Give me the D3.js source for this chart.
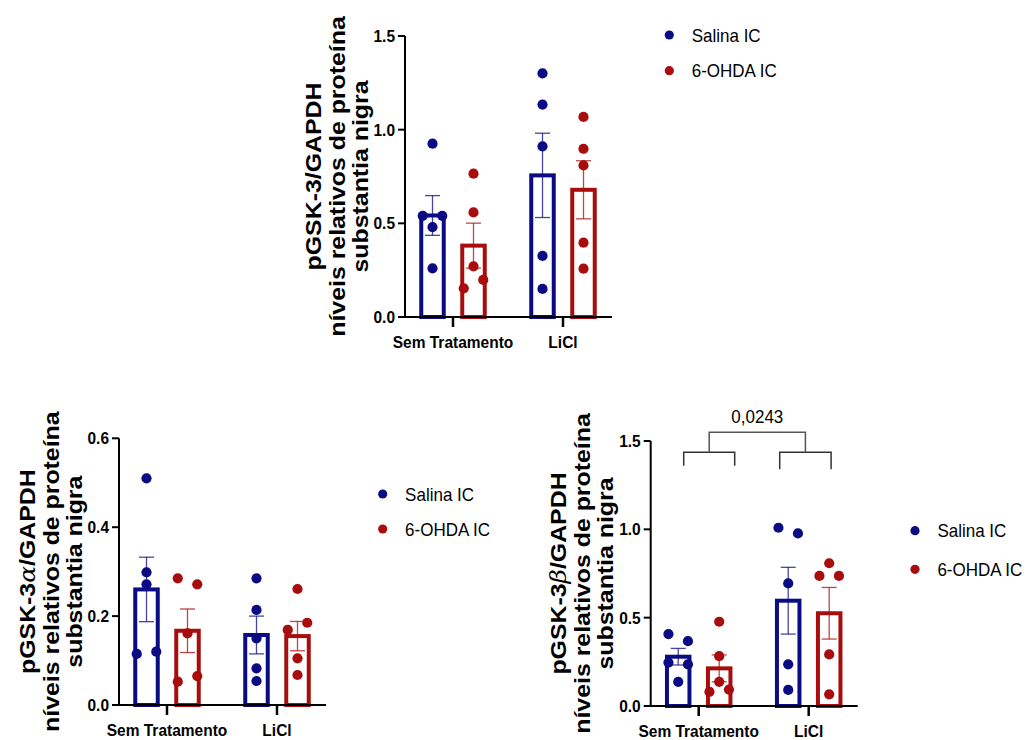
<!DOCTYPE html>
<html><head><meta charset="utf-8">
<script src="https://cdn.jsdelivr.net/npm/d3@7"></script>
<style>html,body{margin:0;padding:0;background:#fff;} svg{display:block}</style>
</head><body>
<svg id="c" width="1026" height="740"></svg>
<script>
// ---------- data ----------
const categories = ["Sem Tratamento", "LiCl"];
const seriesNames = ["Salina IC", "6-OHDA IC"];
const seriesColors = ["#0b0b83", "#a80c0c"];

// pGSK-3 / GAPDH (top)
const gsk3SalinaPoints = [[0.925, 0.54, 0.54, 0.48, 0.26], [1.30, 1.134, 0.911, 0.326, 0.15]];
const gsk3OhdaPoints   = [[0.765, 0.558, 0.27, 0.153, 0.198], [1.068, 0.898, 0.809, 0.397, 0.258]];
const gsk3SalinaMean = [0.542, 0.756];
const gsk3SalinaSem  = [0.106, 0.225];
const gsk3OhdaMean   = [0.381, 0.679];
const gsk3OhdaSem    = [0.120, 0.155];
const gsk3Ticks = [0, 0.5, 1.0, 1.5];

// pGSK-3α / GAPDH (bottom left)
const alphaSalinaPoints = [[0.51, 0.2985, 0.2715, 0.115, 0.12], [0.285, 0.214, 0.15, 0.0825, 0.054]];
const alphaOhdaPoints   = [[0.285, 0.2715, 0.161, 0.0525, 0.065], [0.261, 0.169, 0.185, 0.105, 0.0675]];
const alphaSalinaMean = [0.260, 0.1575];
const alphaSalinaSem  = [0.0725, 0.0425];
const alphaOhdaMean   = [0.167, 0.155];
const alphaOhdaSem    = [0.049, 0.033];
const alphaTicks = [0, 0.2, 0.4, 0.6];

// pGSK-3β / GAPDH (bottom right)
const betaSalinaPoints = [[0.407, 0.367, 0.246, 0.236, 0.137], [1.009, 0.977, 0.694, 0.236, 0.091]];
const betaOhdaPoints   = [[0.477, 0.282, 0.137, 0.08, 0.093], [0.808, 0.736, 0.736, 0.292, 0.066]];
const betaSalinaMean = [0.279, 0.596];
const betaSalinaSem  = [0.047, 0.189];
const betaOhdaMean   = [0.213, 0.525];
const betaOhdaSem    = [0.076, 0.146];
const betaTicks = [0, 0.5, 1.0, 1.5];
const betaPValue = "0,0243";

const titleSub1 = "níveis relativos de proteína";
const titleSub2 = "substantia nigra";

// ---------- layout ----------
const FONT = "'Liberation Sans', Arial, Helvetica, sans-serif";
const SY = 1.1;
const svg = d3.select("#c");

const charts = [
  { x0: 405, yB: 317, yT: 36, max: 1.5, ticks: gsk3Ticks, greek: "",
    sal: [gsk3SalinaPoints, gsk3SalinaMean, gsk3SalinaSem],
    ohd: [gsk3OhdaPoints, gsk3OhdaMean, gsk3OhdaSem],
    legend: [669.3, 35, 35.7] },
  { x0: 119, yB: 705, yT: 438.3, max: 0.6, ticks: alphaTicks, greek: "α",
    sal: [alphaSalinaPoints, alphaSalinaMean, alphaSalinaSem],
    ohd: [alphaOhdaPoints, alphaOhdaMean, alphaOhdaSem],
    legend: [382.7, 494, 35] },
  { x0: 650.7, yB: 706, yT: 441, max: 1.5, ticks: betaTicks, greek: "β",
    sal: [betaSalinaPoints, betaSalinaMean, betaSalinaSem],
    ohd: [betaOhdaPoints, betaOhdaMean, betaOhdaSem],
    legend: [915, 530.7, 38.6], bracket: true }
];

function stretchText(g, x, y, str, size, weight, anchor, dy, k) {
  return g.append("text")
    .attr("transform", `translate(${x},${y}) scale(1,${k || SY})`)
    .attr("text-anchor", anchor)
    .attr("dy", dy)
    .style("font-family", FONT)
    .style("font-size", size + "px")
    .style("font-weight", weight)
    .attr("fill", "#000")
    .text(str);
}

charts.forEach(ch => {
  const g = svg.append("g");
  const y = d3.scaleLinear().domain([0, ch.max]).range([ch.yB, ch.yT]);
  const x = d3.scalePoint().domain(categories).range([ch.x0 + 48, ch.x0 + 158]);
  const off = [-20.5, 20.5];
  const barW = 22.5;
  const rDot = 5.1;

  // bars
  [ch.sal, ch.ohd].forEach((s, si) => {
    const [pts, mean, sem] = s;
    categories.forEach((c, ci) => {
      const cx = x(c) + off[si];
      g.append("rect")
        .attr("x", cx - barW / 2).attr("width", barW)
        .attr("y", y(mean[ci])).attr("height", y(0) - y(mean[ci]))
        .attr("fill", "none").attr("stroke", seriesColors[si]).attr("stroke-width", 4);
    });
  });
  // error bars
  [ch.sal, ch.ohd].forEach((s, si) => {
    const [pts, mean, sem] = s;
    categories.forEach((c, ci) => {
      const cx = x(c) + off[si];
      const hi = y(mean[ci] + sem[ci]), lo = y(mean[ci] - sem[ci]);
      const col = seriesColors[si];
      g.append("line").attr("x1", cx).attr("x2", cx).attr("y1", hi).attr("y2", lo)
        .attr("stroke", col).attr("stroke-width", 1.3).attr("opacity", 0.75);
      [hi, lo].forEach(yy => g.append("line").attr("x1", cx - 7.5).attr("x2", cx + 7.5)
        .attr("y1", yy).attr("y2", yy).attr("stroke", col).attr("stroke-width", 1.3).attr("opacity", 0.75));
    });
  });
  // axes
  const axG = g.append("g");
  axG.append("line").attr("x1", ch.x0).attr("x2", ch.x0).attr("y1", y(0) + 1).attr("y2", y(ch.max))
    .attr("stroke", "#000").attr("stroke-width", 2);
  axG.append("line").attr("x1", ch.x0 - 1).attr("x2", ch.x0 + 207).attr("y1", y(0)).attr("y2", y(0))
    .attr("stroke", "#000").attr("stroke-width", 2);
  ch.ticks.forEach(t => {
    axG.append("line").attr("x1", ch.x0 - 7).attr("x2", ch.x0).attr("y1", y(t)).attr("y2", y(t))
      .attr("stroke", "#000").attr("stroke-width", 2);
    stretchText(axG, ch.x0 - 10, y(t), d3.format(".1f")(t), 15.5, "bold", "end", "0.36em");
  });
  categories.forEach(c => {
    axG.append("line").attr("x1", x(c)).attr("x2", x(c)).attr("y1", y(0)).attr("y2", y(0) + 10)
      .attr("stroke", "#000").attr("stroke-width", 2.5);
    stretchText(axG, x(c), y(0) + 31, c, 15.5, "bold", "middle", "0");
  });

  // points (beeswarm-like rows)
  [ch.sal, ch.ohd].forEach((s, si) => {
    const [pts] = s;
    categories.forEach((c, ci) => {
      const cx = x(c) + off[si];
      const vals = pts[ci].map((v, i) => ({ v, i, py: y(v) }));
      const sorted = vals.slice().sort((a, b) => b.py - a.py); // ascending value
      const rows = [];
      sorted.forEach(p => {
        const last = rows[rows.length - 1];
        if (last && Math.abs(last[0].py - p.py) < 9) last.push(p); else rows.push([p]);
      });
      rows.forEach(row => {
        row.sort((a, b) => a.i - b.i);
        row.forEach((p, k) => { p.dx = (k - (row.length - 1) / 2) * 19.5; });
      });
      g.selectAll(null).data(vals).enter().append("circle")
        .attr("cx", d => cx + d.dx).attr("cy", d => d.py).attr("r", rDot)
        .attr("fill", seriesColors[si]);
    });
  });

  // y title
  const midY = (ch.yB + ch.yT) / 2;
  const tt = g.append("text")
    .attr("transform", `translate(${ch.x0 - 92},${midY}) scale(1,1.13) rotate(-90)`)
    .attr("text-anchor", "middle").attr("dy", "0.35em")
    .style("font-family", FONT).style("font-size", "22px").style("font-weight", "bold");
  tt.append("tspan").text("pGSK-3");
  if (ch.greek) tt.append("tspan").style("font-family", "'DejaVu Serif', serif")
    .style("font-weight", "normal").style("font-style", "italic").text(ch.greek);
  tt.append("tspan").text("/GAPDH");
  [[titleSub1, -68], [titleSub2, -45]].forEach(([s, dx]) => {
    g.append("text")
      .attr("transform", `translate(${ch.x0 + dx},${midY}) scale(1,1.13) rotate(-90)`)
      .attr("text-anchor", "middle").attr("dy", "0.35em")
      .style("font-family", FONT).style("font-size", "22px").style("font-weight", "bold")
      .text(s);
  });

  // legend
  const [lx, ly, lgap] = ch.legend;
  seriesNames.forEach((nm, i) => {
    g.append("circle").attr("cx", lx).attr("cy", ly + i * lgap).attr("r", 4.6).attr("fill", seriesColors[i]);
    stretchText(g, lx + 22.4, ly + i * lgap, nm, 17, "normal", "start", "0.36em", 1.1);
  });

  // significance bracket
  if (ch.bracket) {
    const bg = g.append("g").attr("fill", "none").attr("stroke-width", 1.5);
    const L = [x(categories[0]) - 15, x(categories[0]) + 36];
    const R = [x(categories[1]) - 29, x(categories[1]) + 22.4];
    const yTop = y(1.549), yMid = y(1.436);
    bg.append("path").attr("stroke", "#333")
      .attr("d", `M${L[0]},${y(1.36)}V${yMid}H${L[1]}V${y(1.36)}`);
    bg.append("path").attr("stroke", "#333")
      .attr("d", `M${R[0]},${y(1.34)}V${yMid}H${R[1]}V${y(1.34)}`);
    const lm = (L[0] + L[1]) / 2, rm = (R[0] + R[1]) / 2;
    bg.append("path").attr("stroke", "#555")
      .attr("d", `M${lm},${yMid}V${yTop}H${rm}V${yMid}`);
    stretchText(g, (lm + rm) / 2, yTop - 9, betaPValue, 17, "normal", "middle", "0", 1.12);
  }
});
</script>
</body></html>
